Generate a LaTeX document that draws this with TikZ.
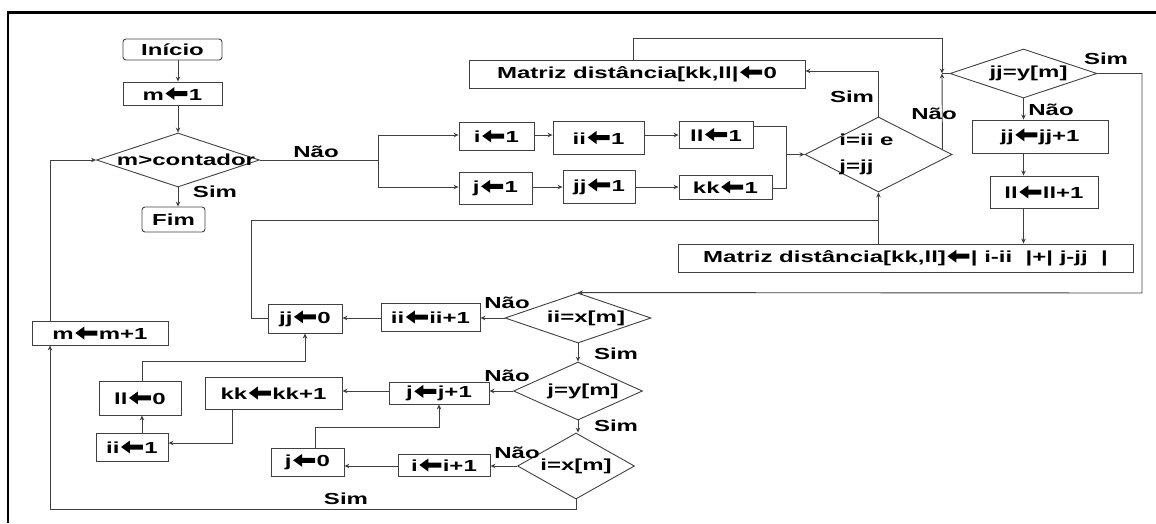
\documentclass[tikz,border=0pt]{standalone}
\usepackage{fontspec}
\setmainfont{Liberation Sans}[FakeStretch=1.5]
\usetikzlibrary{shapes.geometric,arrows.meta,calc}
\definecolor{ln}{HTML}{404040}
\newcommand{\Larr}{\hspace{1.5pt}\tikz[x=1pt,y=1pt,baseline=0pt]\fill[black] (0,6.5)--(9,13)--(9,9)--(22,9)--(22,4)--(9,4)--(9,0)--cycle;\hspace{1.5pt}}
\begin{document}
\begin{tikzpicture}[x=1pt,y=-1pt,
 txt/.style={font=\bfseries\fontsize{16}{18}\selectfont},
 box/.style={draw=ln, line width=0.9pt, rectangle, inner sep=0pt, txt},
 term/.style={box, rounded corners=3pt},
 dec/.style={draw=ln, line width=0.9pt, diamond, inner sep=0pt},
 lbl/.style={txt, inner sep=0pt},
 con/.style={draw=ln, line width=0.9pt},
 arr/.style={con, -{Stealth[length=5pt,width=4.5pt]}},
]
\useasboundingbox (0,0) rectangle (1156,523);
\draw[line width=2.5pt] (8,523) -- (8,12.5) -- (1156,12.5);

% nodes
\node[term, minimum width=99, minimum height=21] (ini) at (172.5,49.5) {Início};
\node[box, minimum width=99, minimum height=23] (m1) at (172.5,93.5) {m\Larr 1};
\node[dec, minimum width=163, minimum height=54, label={[lbl,xshift=8]center:m>contador}] (d1) at (178,160) {};
\node[term, minimum width=63, minimum height=25] (fim) at (173.5,219.5) {Fim};

\node[box, minimum width=75, minimum height=28] (i1) at (496.5,136) {i\Larr 1};
\node[box, minimum width=91, minimum height=33] (ii1) at (598.5,137.5) {ii\Larr 1};
\node[box, minimum width=74, minimum height=27] (ll1) at (716,134.5) {ll\Larr 1};
\node[box, minimum width=73, minimum height=32] (j1) at (495.5,188) {j\Larr 1};
\node[box, minimum width=72, minimum height=33] (jj1) at (599,186.5) {jj\Larr 1};
\node[box, minimum width=93, minimum height=24] (kk1) at (725.5,187) {kk\Larr 1};

\node[box, minimum width=336, minimum height=28] (md0) at (637,74) {Matriz distância[kk,ll|\Larr 0};
\node[dec, minimum width=147, minimum height=75, label={[lbl,align=left,xshift=-12,font=\bfseries\fontsize{16}{26}\selectfont]center:{i=ii e\\j=jj}}] (d2) at (878.5,154.5) {};
\node[dec, minimum width=147, minimum height=49, label={[lbl,xshift=5]center:jj=y[m]}] (d3) at (1023.5,73.5) {};
\node[box, minimum width=136, minimum height=33] (jjp) at (1040,136.5) {jj\Larr jj+1};
\node[box, minimum width=108, minimum height=32] (llp) at (1044,192) {ll\Larr ll+1};
\node[box, minimum width=455, minimum height=28] (mdb) at (905.5,258) {Matriz distância[kk,ll]\Larr| i-ii~ |+| j-jj~ |};

\node[dec, minimum width=146, minimum height=50, label={[lbl,xshift=8]center:ii=x[m]}] (d4) at (578,318) {};
\node[box, minimum width=99, minimum height=28] (iip) at (430.5,317) {ii\Larr ii+1};
\node[box, minimum width=74, minimum height=29] (jj0) at (305,318.5) {jj\Larr 0};
\node[box, minimum width=136, minimum height=24] (mmp) at (100,333) {m\Larr m+1};

\node[dec, minimum width=129, minimum height=58, label={[lbl,xshift=5]center:j=y[m]}] (d5) at (578,391) {};
\node[box, minimum width=100, minimum height=22] (jp) at (439,393) {j\Larr j+1};
\node[box, minimum width=137, minimum height=32] (kkp) at (273.5,393) {kk\Larr kk+1};
\node[box, minimum width=82, minimum height=34] (ll0) at (140,398) {ll\Larr 0};
\node[box, minimum width=72, minimum height=28] (ii1b) at (132,447) {ii\Larr 1};

\node[dec, minimum width=117, minimum height=66, label={[lbl]center:i=x[m]}] (d6) at (576,466) {};
\node[box, minimum width=92, minimum height=22] (ip) at (444,465) {i\Larr i+1};
\node[box, minimum width=73, minimum height=28] (j0) at (307.5,462) {j\Larr 0};

% labels
\node[lbl] (n1) at (316,152) {Não};
\node[lbl] (s1) at (215,192) {Sim};
\node[lbl] (s2l) at (852,97) {Sim};
\node[lbl] (n2) at (934,114) {Não};
\node[lbl] (s3) at (1106,59) {Sim};
\node[lbl] (n3) at (1051,110) {Não};
\node[lbl] (n4) at (507,303) {Não};
\node[lbl] (s4) at (616,354) {Sim};
\node[lbl] (n5) at (507,376) {Não};
\node[lbl] (s5) at (616,426) {Sim};
\node[lbl] (n6) at (517,453) {Não};
\node[lbl] (s6) at (346,499) {Sim};

% coordinates
\coordinate (br) at (378,160);
\coordinate (brt) at (378,135);
\coordinate (brb) at (378,187);
\coordinate (mt) at (786,126);
\coordinate (mb) at (786,188);
\coordinate (s2) at (878,71);
\coordinate (jn) at (942,73.5);
\coordinate (tp) at (633,38);
\coordinate (rt) at (1142,293);
\coordinate (lu) at (251,220);
\coordinate (kd) at (232,443);
\coordinate (lx) at (142,361);
\coordinate (jt) at (315,427);
\coordinate (bl) at (50,509);

% connectors
\draw[arr] (ini.south -| d1.north) -- (m1.north -| d1.north);
\draw[arr] (m1.south -| d1.north) -- (d1.north);
\draw[con] (d1.east) -- (br);
\draw[con] (brt) -- (brb);
\draw[arr] (brt) -- (i1.west |- brt);
\draw[arr] (brb) -- (j1.west |- brb);
\draw[arr] (d1.south) -- (fim.north -| d1.south);
\draw[arr] (i1.east |- brt) -- (ii1.west |- brt);
\draw[arr] (ii1.east |- brt) -- (ll1.west |- brt);
\draw[arr] (j1.east |- brb) -- (jj1.west |- brb);
\draw[arr] (jj1.east |- brb) -- (kk1.west |- brb);
\draw[con] (ll1.east |- mt) -- (mt) -- (mb) -- (kk1.east |- mb);
\draw[arr] (mt |- d2.west) -- (d2.west);
\draw[arr] (d2.north) -- (d2.north |- s2) -- (md0.east |- s2);
\draw[arr] ($(d2.east)+(-10,-5)$) -- (jn);
\draw[arr] (md0.north -| tp) -- (tp) -- (tp -| jn) -- (jn);
\draw[con] (jn) -- (d3.west);
\draw[arr] (d3.south) -- (d3.south |- jjp.north);
\draw[arr] (d3.south |- jjp.south) -- (d3.south |- llp.north);
\draw[arr] (d3.south |- llp.south) -- (d3.south |- mdb.north);
\draw[arr] (d2.south |- mdb.north) -- (d2.south);
\draw[arr] (d3.east) -- (d3.east -| rt) -- (rt) -- (d4.north);
\draw[arr] (d4.west) -- (iip.east |- d4.west);
\draw[arr] (iip.west |- d4.west) -- (jj0.east |- d4.west);
\draw[con] (jj0.west) -- (jj0.west -| lu) -- (lu) -- (d2.south |- lu);
\draw[arr] (d4.south) -- (d5.north);
\draw[arr] (d5.west) -- (jp.east |- d5.west);
\draw[arr] (jp.west |- d5.west) -- (kkp.east |- d5.west);
\draw[arr] (kkp.south -| kd) -- (kd) -- (ii1b.east |- kd);
\draw[arr] (ii1b.north -| lx) -- (ll0.south -| lx);
\draw[arr] (ll0.north -| lx) -- (lx) -- (lx -| jj0.south) -- (jj0.south);
\draw[arr] (d5.south) -- (d5.south |- d6.north);
\draw[arr] (d6.west) -- (ip.east |- d6.west);
\draw[arr] (ip.west |- d6.west) -- (j0.east |- d6.west);
\draw[arr] (j0.north -| jt) -- (jt) -- (jt -| jp.south) -- (jp.south);
\draw[arr] (d6.south) -- (d6.south |- bl) -- (bl) -- (bl |- mmp.south);
\draw[arr] (mmp.north -| bl) -- (bl |- d1.west) -- (d1.west);
\end{tikzpicture}
\end{document}
